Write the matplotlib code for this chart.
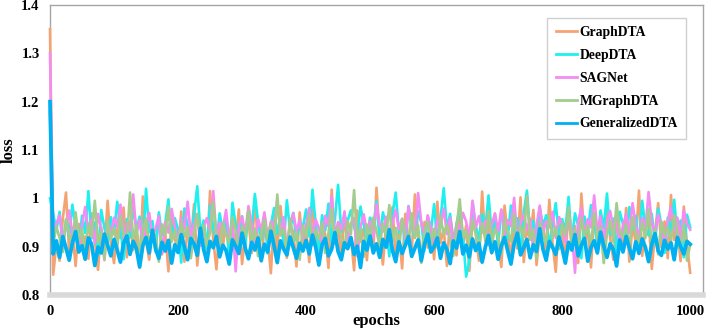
import numpy as np
import matplotlib
matplotlib.use("Agg")
import matplotlib.pyplot as plt

plt.rcParams['font.family'] = ['Liberation Serif', 'DejaVu Serif']
plt.rcParams['font.weight'] = 'bold'

epochs = list(range(0, 1001, 5))

graphdta = [
    1.350, 0.842, 0.905, 0.871, 0.958, 1.012, 0.886, 0.932, 0.860, 0.947, 0.898, 0.921, 0.875, 0.969, 0.913, 0.852, 0.940, 0.889, 0.995, 0.907,
    0.866, 0.936, 0.918, 0.981, 0.878, 0.952, 0.893, 0.925, 0.857, 1.004, 0.911, 0.873, 0.944, 0.899, 0.965, 0.884, 0.929, 0.849, 0.957, 0.916,
    0.891, 0.973, 0.869, 0.938, 0.905, 0.988, 0.861, 0.927, 0.950, 0.880, 1.015, 0.914, 0.853, 0.946, 0.897, 0.962, 0.876, 0.933, 0.909, 0.977,
    0.864, 0.922, 0.955, 0.887, 0.999, 0.903, 0.870, 0.941, 0.918, 0.845, 0.960, 0.894, 0.984, 0.912, 0.877, 0.948, 0.930, 0.859, 0.971, 0.901,
    0.935, 0.868, 0.990, 0.915, 0.883, 0.953, 0.924, 0.856, 1.018, 0.906, 0.942, 0.879, 0.966, 0.897, 0.920, 0.851, 0.975, 0.910, 0.938, 0.872,
    0.959, 0.893, 1.022, 0.917, 0.863, 0.946, 0.904, 0.982, 0.876, 0.931, 0.855, 0.968, 0.913, 0.889, 1.008, 0.925, 0.867, 0.951, 0.898, 0.940,
    0.874, 0.993, 0.908, 0.937, 0.860, 0.963, 0.919, 0.882, 0.979, 0.900, 0.944, 0.850, 0.956, 0.927, 0.871, 1.014, 0.911, 0.947, 0.886, 0.969,
    0.903, 0.858, 0.985, 0.922, 0.880, 0.950, 0.896, 1.002, 0.868, 0.939, 0.915, 0.976, 0.862, 0.930, 0.954, 0.888, 0.997, 0.907, 0.848, 0.961,
    0.921, 0.878, 0.972, 0.895, 0.943, 0.866, 1.010, 0.912, 0.934, 0.857, 0.967, 0.902, 0.949, 0.884, 0.989, 0.918, 0.873, 0.958, 0.926, 0.894,
    0.980, 0.869, 0.945, 0.909, 1.016, 0.881, 0.936, 0.961, 0.854, 0.928, 0.990, 0.899, 0.952, 0.876, 1.007, 0.914, 0.938, 0.870, 0.983, 0.905,
    0.846,
]

deepdta = [
    1.000, 0.968, 0.935, 0.972, 0.903, 0.955, 0.921, 0.987, 0.942, 0.896, 0.964, 0.928, 1.015, 0.917, 0.950, 0.882, 0.976, 0.939, 0.908, 0.961,
    0.926, 0.993, 0.945, 0.874, 0.957, 0.919, 0.982, 0.936, 0.962, 0.901, 1.020, 0.930, 0.953, 0.889, 0.971, 0.924, 0.948, 0.998, 0.912, 0.959,
    0.935, 0.867, 0.979, 0.943, 0.916, 0.966, 1.025, 0.928, 0.954, 0.895, 0.985, 0.940, 0.910, 0.969, 0.932, 0.957, 0.878, 0.991, 0.946, 0.920,
    0.963, 0.899, 0.974, 0.937, 1.009, 0.951, 0.915, 0.968, 0.886, 0.944, 0.980, 0.927, 0.958, 0.906, 0.996, 0.933, 0.970, 0.913, 0.952, 0.939,
    0.977, 0.921, 1.018, 0.947, 0.893, 0.965, 0.934, 0.989, 0.909, 0.956, 1.028, 0.930, 0.962, 0.954, 0.975, 0.941, 0.918, 0.983, 0.948, 0.904,
    0.960, 0.937, 0.994, 0.914, 0.971, 0.945, 0.880, 0.966, 1.012, 0.929, 0.955, 0.901, 0.984, 0.940, 0.919, 0.973, 0.950, 0.892, 0.963, 0.932,
    0.988, 0.911, 0.958, 1.021, 0.936, 0.968, 0.897, 0.947, 0.979, 0.923, 0.838, 0.870, 0.992, 0.943, 0.915, 0.967, 0.938, 1.006, 0.926, 0.961,
    0.905, 0.974, 0.946, 0.918, 0.985, 0.933, 0.959, 0.884, 0.970, 1.016, 0.927, 0.953, 0.908, 0.981, 0.942, 0.965, 0.898, 0.949, 0.990, 0.921,
    0.957, 0.934, 1.003, 0.912, 0.969, 0.944, 0.876, 0.962, 0.928, 0.986, 0.951, 0.903, 0.975, 0.939, 1.010, 0.925, 0.958, 0.890, 0.972, 0.947,
    0.916, 0.982, 0.936, 0.964, 0.900, 0.995, 0.941, 0.923, 0.968, 0.907, 0.979, 0.945, 0.887, 0.960, 0.931, 0.997, 0.919, 0.954, 0.878, 0.966,
    0.940,
]

sagnet = [
    1.300, 0.921, 0.948, 0.965, 0.912, 0.939, 0.975, 0.926, 0.953, 0.898, 0.944, 0.982, 0.930, 0.957, 0.908, 0.968, 0.935, 0.872, 0.951, 0.924,
    0.960, 0.941, 0.987, 0.916, 0.949, 0.933, 1.008, 0.927, 0.955, 0.905, 0.945, 0.970, 0.919, 0.938, 0.963, 0.886, 0.952, 0.929, 0.978, 0.942,
    0.911, 0.958, 0.936, 0.993, 0.923, 0.947, 0.966, 0.902, 0.940, 0.959, 0.931, 1.015, 0.918, 0.950, 0.937, 0.976, 0.914, 0.954, 0.849, 0.943,
    0.962, 0.928, 0.984, 0.946, 0.909, 0.957, 0.934, 0.971, 0.920, 0.952, 0.939, 0.997, 0.925, 0.961, 0.893, 0.948, 0.969, 0.932, 0.955, 0.915,
    0.944, 0.980, 0.927, 0.956, 0.938, 0.906, 0.964, 0.942, 1.004, 0.923, 0.951, 0.935, 0.973, 0.912, 0.947, 0.959, 0.881, 0.940, 0.967, 0.930,
    0.953, 0.919, 0.988, 0.945, 0.931, 0.962, 0.907, 0.950, 0.976, 0.936, 0.958, 0.916, 0.983, 0.941, 0.928, 1.011, 0.949, 0.922, 0.965, 0.937,
    0.910, 0.956, 0.943, 0.979, 0.926, 0.960, 0.895, 0.948, 0.934, 0.970, 0.952, 0.917, 0.995, 0.939, 0.963, 0.929, 0.954, 0.903, 0.946, 0.968,
    0.932, 0.977, 0.921, 0.955, 0.942, 1.001, 0.913, 0.949, 0.966, 0.935, 0.958, 0.890, 0.944, 0.985, 0.927, 0.953, 0.940, 0.972, 0.918, 0.961,
    0.947, 0.908, 0.969, 0.936, 0.846, 0.952, 0.981, 0.925, 0.957, 0.940, 1.006, 0.931, 0.963, 0.915, 0.948, 0.974, 0.938, 0.956, 0.899, 0.945,
    0.967, 0.929, 0.990, 0.943, 0.920, 0.959, 0.937, 1.013, 0.951, 0.924, 0.966, 0.942, 0.904, 0.955, 0.982, 0.933, 0.960, 0.917, 0.975, 0.948,
    0.935,
]

mgraphdta = [
    1.180, 0.905, 0.942, 0.918, 0.889, 0.957, 0.926, 0.901, 0.971, 0.913, 0.936, 0.882, 0.948, 0.921, 0.995, 0.907, 0.931, 0.874, 0.952, 0.916,
    0.939, 0.897, 0.964, 0.923, 0.908, 1.012, 0.915, 0.944, 0.886, 0.929, 0.958, 0.902, 0.937, 0.919, 0.869, 0.946, 0.925, 0.983, 0.910, 0.934,
    0.898, 0.951, 0.920, 0.940, 0.876, 0.927, 0.968, 0.912, 0.945, 0.903, 0.930, 0.992, 0.917, 0.884, 0.949, 0.924, 0.909, 0.961, 0.933, 0.895,
    0.942, 0.918, 0.975, 0.906, 0.938, 0.880, 0.927, 0.955, 0.914, 0.947, 0.899, 1.008, 0.923, 0.936, 0.892, 0.958, 0.911, 0.929, 0.873, 0.944,
    0.921, 0.966, 0.903, 0.935, 0.915, 0.950, 0.887, 0.928, 0.979, 0.910, 0.941, 0.919, 0.896, 0.953, 0.926, 1.017, 0.908, 0.937, 0.879, 0.946,
    0.916, 0.960, 0.932, 0.901, 0.948, 0.922, 0.986, 0.911, 0.939, 0.893, 0.957, 0.925, 0.905, 0.969, 0.918, 0.944, 0.867, 0.930, 0.952, 0.909,
    0.937, 0.898, 0.962, 0.924, 0.946, 0.913, 0.881, 0.940, 0.998, 0.919, 0.933, 0.904, 0.955, 0.927, 0.890, 0.949, 0.916, 0.973, 0.907, 0.938,
    0.922, 0.885, 0.954, 0.931, 0.911, 0.967, 0.900, 0.943, 0.920, 1.005, 0.914, 0.936, 0.875, 0.950, 0.928, 0.906, 0.963, 0.917, 0.941, 0.895,
    0.947, 0.924, 0.982, 0.909, 0.935, 0.888, 0.958, 0.921, 0.944, 0.902, 0.970, 0.915, 0.939, 0.866, 0.927, 0.953, 0.910, 0.990, 0.932, 0.919,
    0.945, 0.897, 0.961, 0.926, 0.908, 0.949, 0.918, 0.978, 0.903, 0.936, 0.884, 0.952, 0.923, 0.940, 0.912, 0.965, 0.929, 0.893, 0.946, 0.871,
    0.905,
]

generalizeddta = [
    1.200, 0.885, 0.912, 0.878, 0.921, 0.897, 0.872, 0.908, 0.931, 0.889, 0.902, 0.874, 0.918, 0.905, 0.861, 0.899, 0.887, 0.926, 0.903, 0.881,
    0.915, 0.893, 0.868, 0.907, 0.922, 0.884, 0.911, 0.896, 0.858, 0.902, 0.919, 0.887, 0.934, 0.895, 0.876, 0.909, 0.891, 0.913, 0.866, 0.904,
    0.888, 0.925, 0.899, 0.873, 0.917, 0.906, 0.882, 0.938, 0.894, 0.869, 0.911, 0.898, 0.921, 0.879, 0.903, 0.892, 0.864, 0.914, 0.901, 0.886,
    0.928, 0.897, 0.875, 0.909, 0.893, 0.918, 0.871, 0.905, 0.889, 0.932, 0.902, 0.867, 0.912, 0.895, 0.883, 0.920, 0.898, 0.876, 0.907, 0.891,
    0.913, 0.885, 0.924, 0.899, 0.862, 0.904, 0.917, 0.881, 0.895, 0.929, 0.890, 0.873, 0.908, 0.896, 0.919, 0.884, 0.901, 0.857, 0.911, 0.893,
    0.922, 0.887, 0.906, 0.878, 0.915, 0.899, 0.935, 0.892, 0.869, 0.910, 0.886, 0.903, 0.921, 0.880, 0.897, 0.914, 0.871, 0.905, 0.926, 0.889,
    0.900, 0.918, 0.876, 0.908, 0.894, 0.865, 0.912, 0.897, 0.931, 0.885, 0.903, 0.879, 0.916, 0.892, 0.907, 0.868, 0.899, 0.923, 0.888, 0.910,
    0.874, 0.902, 0.919, 0.891, 0.864, 0.906, 0.928, 0.883, 0.898, 0.915, 0.877, 0.904, 0.890, 0.937, 0.895, 0.872, 0.911, 0.899, 0.884, 0.920,
    0.896, 0.866, 0.909, 0.893, 0.925, 0.881, 0.903, 0.917, 0.870, 0.898, 0.912, 0.887, 0.930, 0.901, 0.878, 0.906, 0.894, 0.860, 0.914, 0.889,
    0.921, 0.897, 0.875, 0.910, 0.886, 0.916, 0.899, 0.869, 0.905, 0.927, 0.891, 0.882, 0.913, 0.895, 0.908, 0.873, 0.919, 0.900, 0.885, 0.911,
    0.905,
]

series_names = ['GraphDTA', 'DeepDTA', 'SAGNet', 'MGraphDTA', 'GeneralizedDTA']
series_values = [graphdta, deepdta, sagnet, mgraphdta, generalizeddta]
colors = ['#F4A472', '#1EF0F0', '#F58CF2', '#A4CC8C', '#00B0F0']
widths = [1.9, 1.9, 1.9, 1.9, 2.7]

y_ticks = [0.8, 0.9, 1.0, 1.1, 1.2, 1.3, 1.4]
y_tick_labels = ['0.8', '0.9', '1', '1.1', '1.2', '1.3', '1.4']
x_ticks = [0, 200, 400, 600, 800, 1000]

fig = plt.figure(figsize=(7.06, 3.28), dpi=100)
ax = fig.add_axes([50 / 706, 33 / 328, 653 / 706, 290 / 328])

for name, vals, c, w in zip(series_names, series_values, colors, widths):
    ax.plot(epochs, vals, color=c, lw=w, label=name, clip_on=False, zorder=3)

ax.set_xlim(0, 1020)
ax.set_ylim(0.8, 1.4)
ax.set_yticks(y_ticks)
ax.set_yticklabels(y_tick_labels)
ax.set_xticks(x_ticks)
ax.tick_params(axis='both', length=0, labelsize=10.5)
ax.tick_params(axis='y', pad=7.5)
ax.tick_params(axis='x', pad=7)
for lab in ax.get_xticklabels() + ax.get_yticklabels():
    lab.set_fontweight('bold')

for s in ['left', 'top', 'right']:
    ax.spines[s].set_color('#a6a6a6')
    ax.spines[s].set_linewidth(1.0)
ax.spines['bottom'].set_color('#d9d9d9')
ax.spines['bottom'].set_linewidth(4)

ax.set_xlabel('epochs', fontsize=12, fontweight='bold', labelpad=-3.5)
ax.set_ylabel('loss', fontsize=12, fontweight='bold', labelpad=3)

leg = ax.legend(loc='upper right', bbox_to_anchor=(636 / 653, 277 / 290), fontsize=9.8,
                handlelength=1.6, handletextpad=0.15, labelspacing=0.72,
                borderpad=0.6, fancybox=False, framealpha=1, borderaxespad=0)
leg.set_zorder(5)
leg.get_frame().set_edgecolor('#d0d0d0')
leg.get_frame().set_linewidth(1.0)
for t in leg.get_texts():
    t.set_fontweight('bold')
for h in leg.get_lines():
    h.set_linewidth(2.0)

fig.savefig('out.png', dpi=100)
